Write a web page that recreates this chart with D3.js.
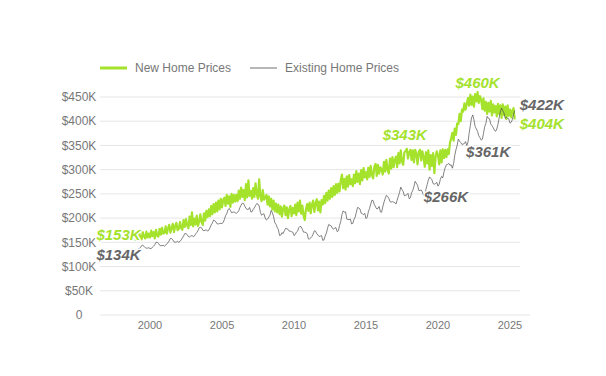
<!DOCTYPE html>
<html>
<head>
<meta charset="utf-8">
<script src="https://cdn.jsdelivr.net/npm/d3@7/dist/d3.min.js"></script>
<style>
  html, body { margin: 0; padding: 0; background: #fff; }
  text { font-family: "Liberation Sans", Arial, sans-serif; }
</style>
</head>
<body>
<script>
// ---- Data (monthly, $K), Jan 1999 .. May 2025 ----
const startYear = 1999;
const seriesNames = ["New Home Prices", "Existing Home Prices"];
const yTickValues = [0, 50, 100, 150, 200, 250, 300, 350, 400, 450];
const xTickYears = [2000, 2005, 2010, 2015, 2020, 2025];

const newHomePrices = [
  153,166,158,170,160,156,171,162,158,172,160,168, // 1999
  160,174,163,171,158,176,164,162,178,166,180,168, // 2000
  170,183,168,178,186,170,180,188,171,184,190,175, // 2001
  178,192,180,176,196,182,198,185,179,203,186,212, // 2002
  183,199,187,205,184,193,208,192,186,210,195,215, // 2003
  202,218,204,225,208,229,212,232,214,236,218,240, // 2004
  222,238,242,225,248,230,245,223,250,232,248,234, // 2005
  248,235,257,240,263,244,258,237,270,243,278,246, // 2006
  256,240,262,244,272,250,240,280,245,235,258,238, // 2007
  242,248,228,245,224,240,218,236,214,230,212,228, // 2008
  208,224,203,220,226,206,222,200,218,225,204,221, // 2009
  210,228,206,232,214,236,209,226,205,196,219,229, // 2010
  215,232,210,228,236,213,230,239,216,234,212,237, // 2011
  228,246,231,252,236,257,240,262,244,266,248,270, // 2012
  252,271,255,278,290,262,281,259,286,265,289,270, // 2013
  280,266,290,272,297,275,292,270,299,278,303,284, // 2014
  295,280,304,285,308,289,282,306,312,287,310,292, // 2015
  305,300,290,316,296,320,300,292,323,302,326,305, // 2016
  320,327,305,334,313,340,317,310,336,338,343,323, // 2017
  336,341,320,340,315,341,333,311,337,341,319,338, // 2018
  325,306,336,313,340,300,330,308,334,293,326,338, // 2019
  330,311,340,315,342,324,341,326,342,332,356,364, // 2020
  376,360,385,372,395,394,415,400,424,420,437,424, // 2021
  436,448,432,455,434,451,430,456,441,460,438,452, // 2022
  444,425,447,422,440,415,438,420,442,412,435,418, // 2023
  431,410,436,415,433,407,435,413,430,405,433,411, // 2024
  424,408,421,427,404                              // 2025
];

const existingHomePrices = [
  134,133,136,137,139,143,144,142,139,138,138,139, // 1999
  137,137,140,142,145,150,150,148,144,143,143,144, // 2000
  142,144,147,149,153,158,158,155,151,150,151,152, // 2001
  150,152,155,159,163,168,168,166,162,161,163,164, // 2002
  162,163,167,170,174,180,181,180,175,174,175,176, // 2003
  173,175,180,186,190,196,195,192,188,188,189,189, // 2004
  189,191,197,205,209,217,220,216,211,212,213,211, // 2005
  210,212,215,222,227,231,230,225,220,218,218,222, // 2006
  213,213,218,221,226,230,229,225,212,206,208,209, // 2007
  200,196,198,202,206,216,211,203,191,187,181,176, // 2008
  164,165,170,168,174,179,178,177,173,173,172,171, // 2009
  164,166,171,173,180,183,182,177,171,171,170,168, // 2010
  157,157,159,162,167,174,173,168,165,162,163,164, // 2011
  154,155,163,169,179,187,185,184,179,177,180,180, // 2012
  172,174,185,193,207,215,212,213,198,197,197,198, // 2013
  188,189,197,202,212,222,221,219,210,209,207,210, // 2014
  199,202,213,220,229,237,236,228,223,219,220,224, // 2015
  213,212,223,233,240,247,245,241,234,233,234,233, // 2016
  232,229,237,245,253,264,259,255,246,247,248,251, // 2017
  240,242,252,257,265,276,272,268,257,257,258,254, // 2018
  247,249,259,269,278,285,282,279,271,270,271,274, // 2019
  266,270,280,286,283,295,304,310,311,313,309,310, // 2020
  303,313,329,341,350,363,359,356,352,353,354,358, // 2021
  350,357,375,391,407,413,403,389,384,379,370,366, // 2022
  361,363,375,389,396,410,406,405,394,391,387,382, // 2023
  379,384,393,407,419,427,422,417,406,408,406,405, // 2024
  396,398,403,414,422                              // 2025
];

// ---- Layout ----
const W = 606, H = 376;
const svg = d3.select("body").append("svg").attr("width", W).attr("height", H);

const x = d3.scaleTime()
  .domain([new Date(2000, 0, 1), new Date(2025, 0, 1)])
  .range([150, 510]);
const y = d3.scaleLinear().domain([0, 450]).range([315, 97]);

const toSeries = arr => arr.map((v, i) => ({ date: new Date(startYear, i, 1), value: v }));
const newS = toSeries(newHomePrices);
const exS = toSeries(existingHomePrices);

const green = "#a4e22c";
const grayLine = "#4d4d4d";
const labelGray = "#777";

// gridlines
const grid = svg.append("g");
yTickValues.forEach(t => {
  grid.append("line")
    .attr("x1", 100).attr("x2", t === 0 ? 530 : 520)
    .attr("y1", y(t)).attr("y2", y(t))
    .attr("stroke", "#e6e6e6").attr("stroke-width", 1);
});

// y tick labels
svg.append("g").selectAll("text").data(yTickValues).join("text")
  .attr("x", 79).attr("y", d => y(d)).attr("dy", "0.35em")
  .attr("text-anchor", "middle")
  .attr("font-size", 12).attr("fill", labelGray)
  .text(d => d === 0 ? "0" : `$${d}K`);

// x axis labels
svg.append("g").selectAll("text").data(xTickYears).join("text")
  .attr("x", d => x(new Date(d, 0, 1))).attr("y", 325).attr("dy", "0.35em")
  .attr("text-anchor", "middle")
  .attr("font-size", 11).attr("fill", labelGray)
  .text(d => d);

// lines
const line = d3.line().x(d => x(d.date)).y(d => y(d.value));
svg.append("path").datum(newS)
  .attr("d", line).attr("fill", "none")
  .attr("stroke", green).attr("stroke-width", 2.2).attr("stroke-linejoin", "round");
svg.append("path").datum(exS)
  .attr("d", line).attr("fill", "none")
  .attr("stroke", grayLine).attr("stroke-width", 0.7).attr("stroke-linejoin", "round");

// legend
const lg = svg.append("g");
lg.append("line").attr("x1", 100).attr("x2", 127).attr("y1", 68).attr("y2", 68)
  .attr("stroke", green).attr("stroke-width", 3);
lg.append("text").attr("x", 135).attr("y", 68).attr("dy", "0.35em")
  .attr("font-size", 12).attr("fill", labelGray).text(seriesNames[0]);
lg.append("line").attr("x1", 250).attr("x2", 277).attr("y1", 68).attr("y2", 68)
  .attr("stroke", grayLine).attr("stroke-width", 0.8);
lg.append("text").attr("x", 285).attr("y", 68).attr("dy", "0.35em")
  .attr("font-size", 12).attr("fill", labelGray).text(seriesNames[1]);

// annotations
const fmt = v => `$${Math.round(v)}K`;
const idx = (yr, m) => (yr - startYear) * 12 + m;
const annots = [
  { s: newS, i: 0, dx: 5, dy: -1, anchor: "end", color: green },
  { s: exS, i: 0, dx: 5, dy: 10, anchor: "end", color: "#666" },
  { s: newS, i: idx(2017, 10), dx: -2, dy: -9, anchor: "middle", color: green },
  { s: newS, i: idx(2022, 9), dx: 0, dy: -4, anchor: "middle", color: green },
  { s: exS, i: idx(2020, 0), dx: 8, dy: 16, anchor: "middle", color: "#666" },
  { s: exS, i: idx(2023, 0), dx: 7, dy: 17, anchor: "middle", color: "#666" },
  { s: exS, i: exS.length - 1, dx: 5, dy: -1, anchor: "start", color: "#666" },
  { s: newS, i: newS.length - 1, dx: 5, dy: 10, anchor: "start", color: green }
];
svg.append("g").selectAll("text").data(annots).join("text")
  .attr("x", d => x(d.s[d.i].date) + d.dx)
  .attr("y", d => y(d.s[d.i].value) + d.dy)
  .attr("text-anchor", d => d.anchor)
  .attr("font-size", 15).attr("font-weight", "bold").attr("font-style", "italic")
  .attr("fill", d => d.color)
  .attr("stroke", "#fff").attr("stroke-width", 3).attr("stroke-linejoin", "round")
  .attr("paint-order", "stroke")
  .text(d => fmt(d.s[d.i].value));
</script>
</body>
</html>
